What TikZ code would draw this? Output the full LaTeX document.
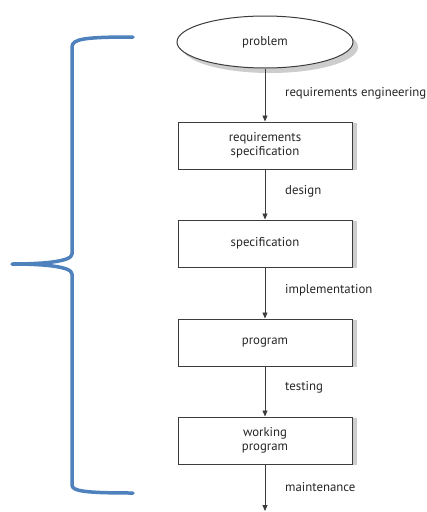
\documentclass[tikz,border=0pt]{standalone}
\usepackage{fontspec}
\setmainfont{PT Sans}
\usetikzlibrary{shapes.geometric,arrows.meta}
\definecolor{bracecol}{RGB}{79,129,189}
\definecolor{edgegray}{RGB}{60,60,60}
\definecolor{shadowgray}{RGB}{205,205,205}
\tikzset{
  x=1pt, y=-1pt,
  every node/.style={font=\fontsize{12.8}{14}\selectfont, text=black!85},
  stagebox/.style={draw=edgegray, line width=1pt, fill=white, minimum width=174pt, minimum height=47pt, align=center, inner sep=0pt},
  stageshadow/.style={fill=shadowgray, draw=none, minimum width=174pt, minimum height=47pt, inner sep=0pt},
  flow/.style={draw=edgegray, line width=0.8pt, -{Triangle[length=6pt,width=5pt]}},
  flowlabel/.style={anchor=west, inner sep=0pt},
}
\begin{document}
\begin{tikzpicture}
\useasboundingbox (0,0) rectangle (427,512);
% drop shadows
\node[ellipse, fill=shadowgray, minimum width=176pt, minimum height=52pt, inner sep=0pt] at (270,47) {};
\foreach \y in {146,244,343,441}
  \node[stageshadow] at (270,\y) {};
% stages
\node[ellipse, draw=edgegray, line width=1pt, fill=white, minimum width=176pt, minimum height=52pt, inner sep=0pt] (problem) at (265,42) {problem};
\node[stagebox] (reqspec) at (265,145.5) {requirements\\specification};
\node[stagebox] (spec) at (265,243.5) {specification};
\node[stagebox] (prog) at (265,342.5) {program};
\node[stagebox] (work) at (265,440.5) {working\\program};
\coordinate (end) at (265,511);
% transitions
\draw[flow] (problem) -- (reqspec);
\draw[flow] (reqspec) -- (spec);
\draw[flow] (spec) -- (prog);
\draw[flow] (prog) -- (work);
\draw[flow] (work) -- (end);
\node[flowlabel] (l1) at (285,93) {requirements engineering};
\node[flowlabel] (l2) at (285,191) {design};
\node[flowlabel] (l3) at (285,290) {implementation};
\node[flowlabel] (l4) at (285,387) {testing};
\node[flowlabel] (l5) at (285,487) {maintenance};
% brace spanning the development stages
\draw[bracecol, line width=3.5pt, line cap=round, line join=round]
  (133,37) .. controls (84,37) and (72,39) .. (72,47)
  -- (72,254) .. controls (72,262) and (40,264) .. (12,264)
  .. controls (40,264) and (72,266) .. (72,274)
  -- (72,485) .. controls (72,491) and (84,493) .. (133,493);
\end{tikzpicture}
\end{document}
